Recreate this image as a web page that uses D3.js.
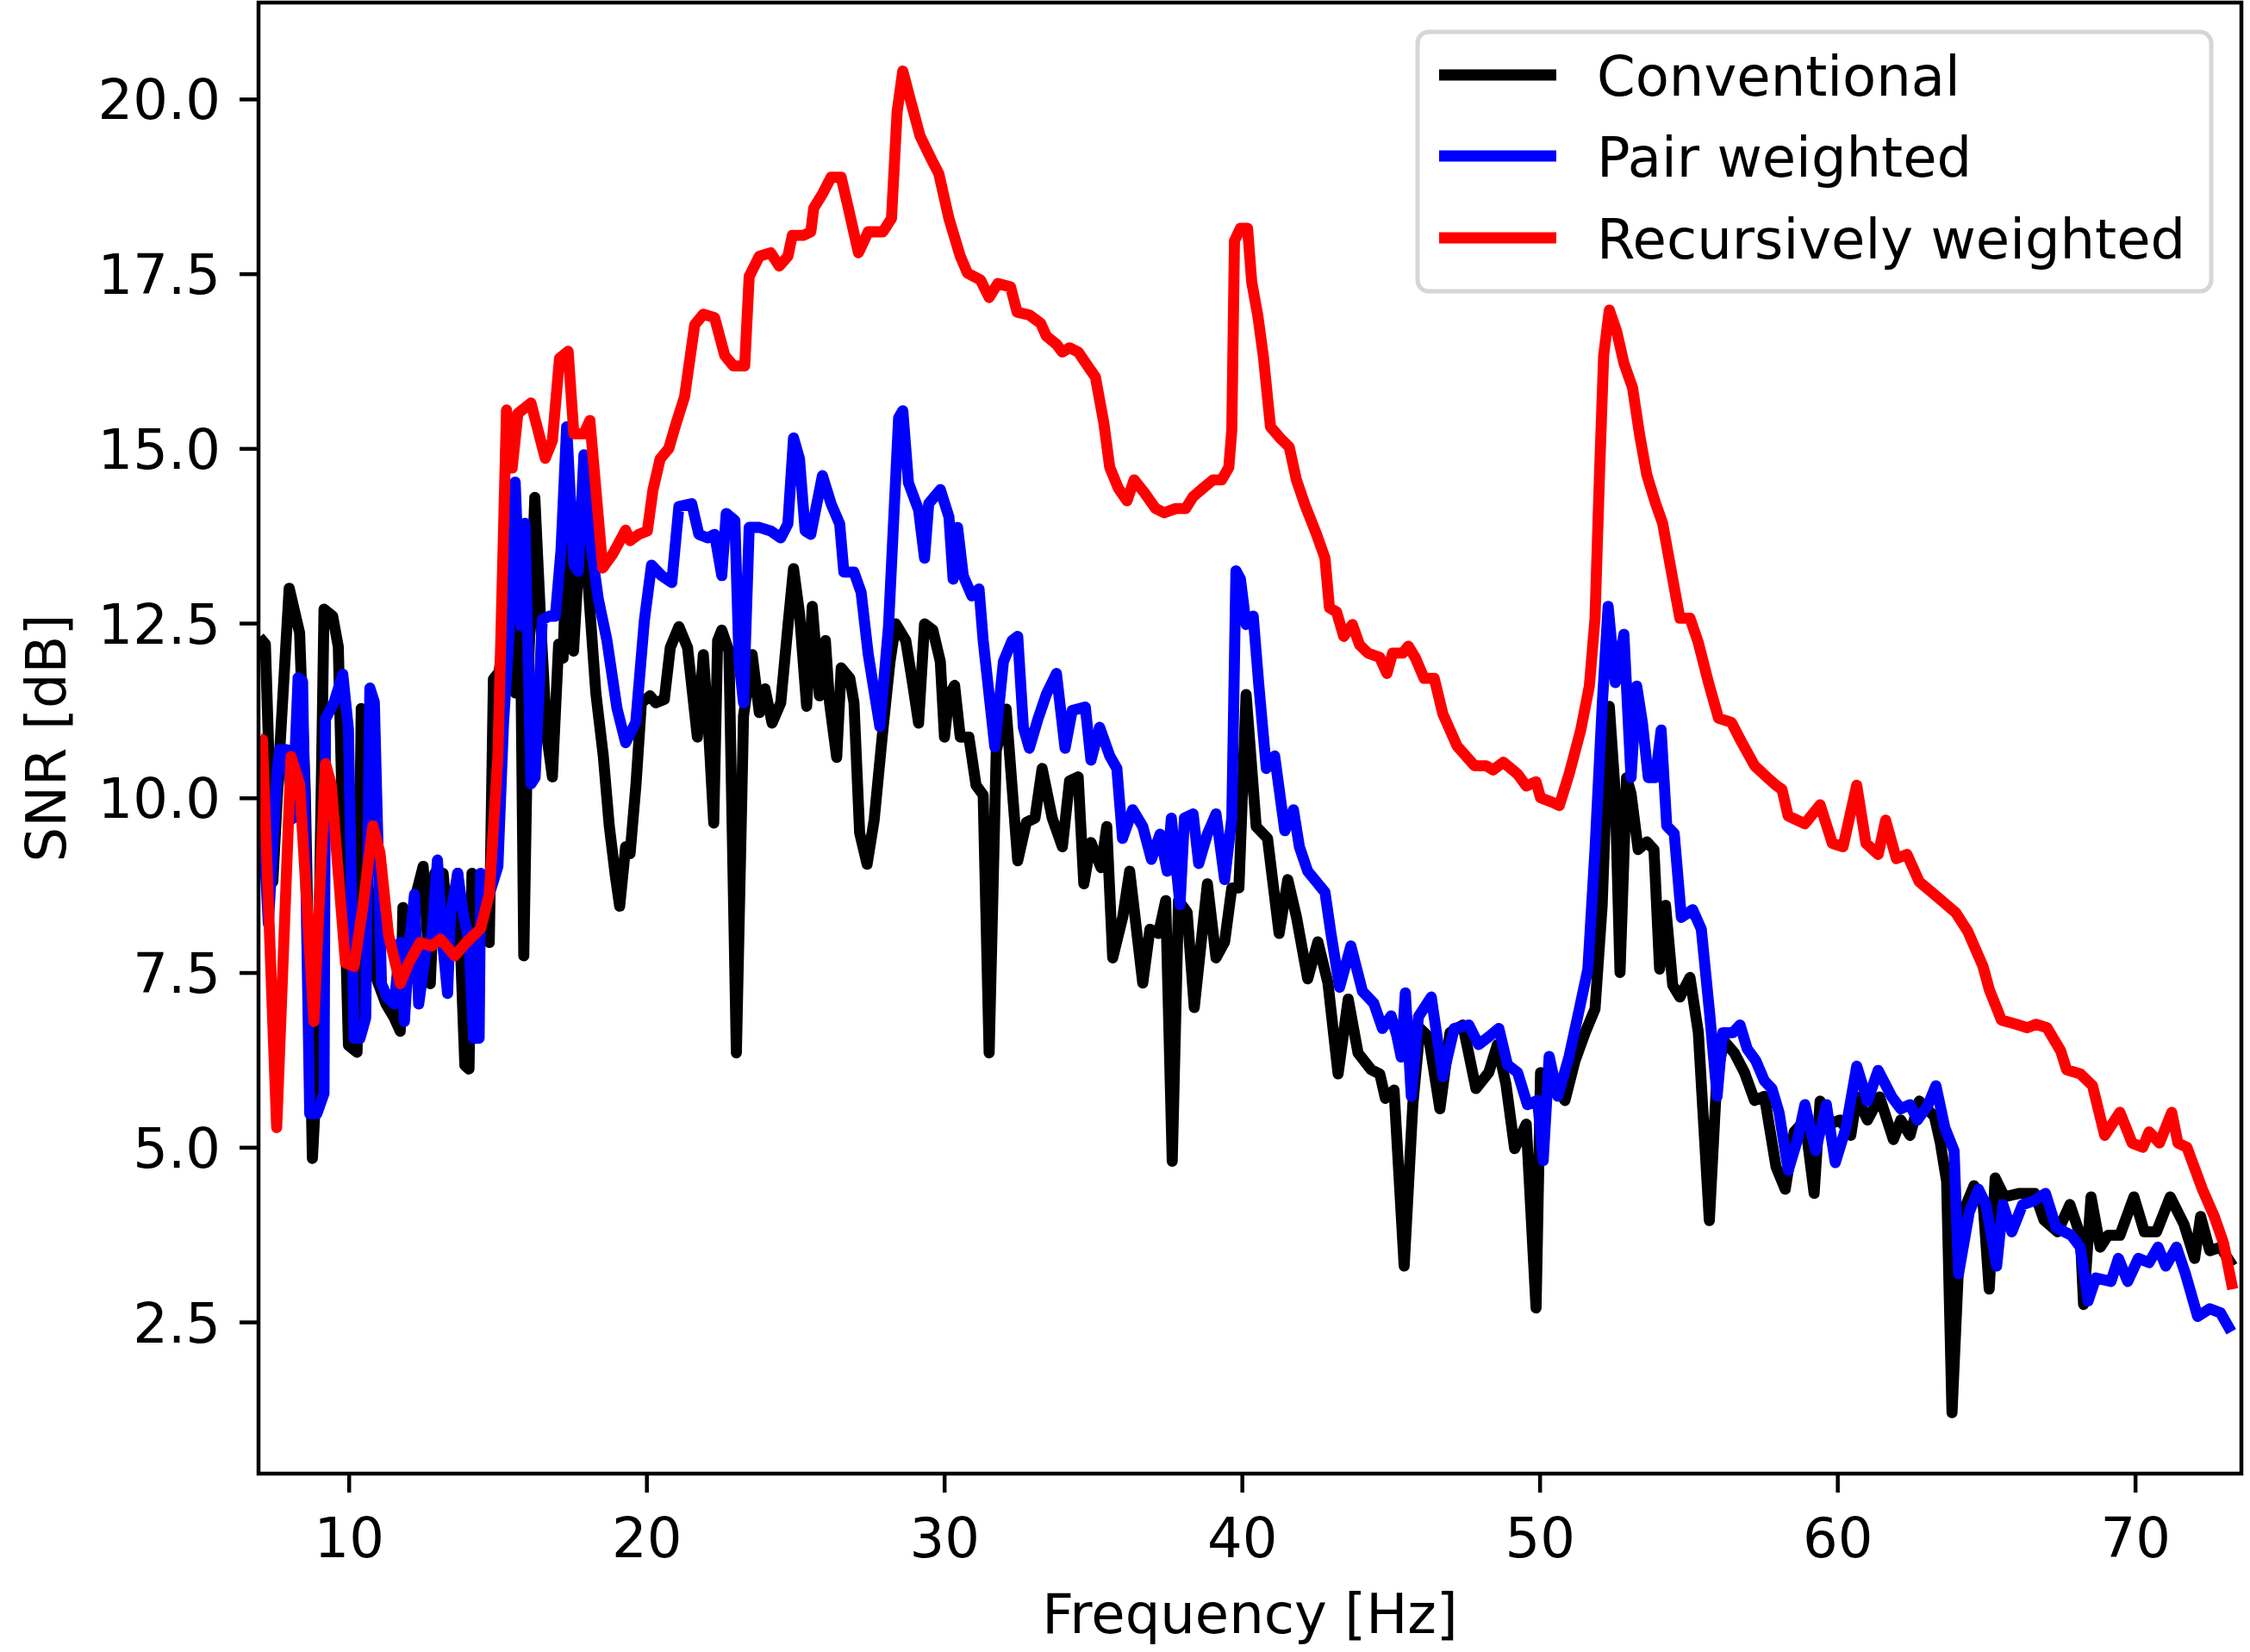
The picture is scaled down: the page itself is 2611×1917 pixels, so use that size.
<!DOCTYPE html>
<html>
<head>
<meta charset="utf-8">
<script src="https://cdn.jsdelivr.net/npm/d3@7"></script>
<style>
  html, body { margin: 0; padding: 0; background: #ffffff; }
  svg { display: block; }
  text { font-family: "DejaVu Sans", sans-serif; fill: #000; }
</style>
</head>
<body>
<svg id="chart" width="2611" height="1917"></svg>
<script>
// ---------------- DATA ----------------
const seriesNames = ["Conventional", "Pair weighted", "Recursively weighted"];
const seriesColors = ["#000000", "#0000ff", "#ff0000"];

const xTickValues = [10, 20, 30, 40, 50, 60, 70];
const yTickValues = [2.5, 5.0, 7.5, 10.0, 12.5, 15.0, 17.5, 20.0];
const xLabel = "Frequency [Hz]";
const yLabel = "SNR [dB]";

// [frequency Hz, SNR dB]
const conventional = [
[7.0,12.3],[7.2,12.2],[7.45,8.8],[7.7,10.8],[8.0,13.0],[8.35,12.36],[8.54,10.1],[8.78,4.84],[8.93,6.07],[9.17,12.7],
[9.46,12.6],[9.65,12.16],[9.8,9.5],[9.99,6.46],[10.28,6.36],[10.42,11.28],[10.6,9.0],[10.9,7.45],[11.25,7.05],[11.53,6.85],
[11.73,6.66],[11.82,8.43],[12.02,8.03],[12.25,8.6],[12.5,9.02],[12.74,7.34],[12.89,8.92],[13.17,8.92],[13.4,7.8],[13.66,8.92],
[13.9,6.17],[14.04,6.12],[14.14,8.92],[14.43,8.62],[14.72,7.93],[14.86,11.7],[15.05,11.8],[15.25,12.5],[15.45,13.2],[15.6,11.5],
[15.75,13.3],[15.88,7.74],[16.05,12.0],[16.25,14.3],[16.45,12.5],[16.65,10.9],[16.84,10.3],[17.05,12.2],[17.2,12.0],[17.4,14.6],
[17.55,12.1],[17.7,13.2],[17.85,14.3],[18.05,13.0],[18.3,11.5],[18.55,10.6],[18.75,9.6],[18.95,8.9],[19.1,8.45],[19.3,9.3],
[19.45,9.2],[19.65,10.2],[19.83,11.36],[20.12,11.46],[20.31,11.36],[20.6,11.41],[20.8,12.15],[21.09,12.45],[21.38,12.15],[21.71,10.87],
[21.91,12.05],[22.1,10.87],[22.26,9.64],[22.39,12.25],[22.53,12.4],[22.77,12.1],[23.02,6.35],[23.26,11.17],[23.55,12.05],[23.79,11.22],
[23.98,11.56],[24.22,11.07],[24.51,11.36],[24.75,12.45],[24.94,13.28],[25.14,12.64],[25.38,11.31],[25.57,12.74],[25.81,11.46],[26.01,12.25],
[26.15,11.36],[26.39,10.58],[26.54,11.86],[26.83,11.71],[26.97,11.36],[27.16,9.5],[27.41,9.05],[27.65,9.69],[27.94,10.97],[28.18,11.95],
[28.37,12.49],[28.71,12.25],[28.95,11.61],[29.14,11.07],[29.34,12.49],[29.62,12.4],[29.87,11.95],[30.01,10.87],[30.16,11.46],[30.35,11.61],
[30.54,10.87],[30.83,10.87],[31.07,10.18],[31.31,10.04],[31.51,6.35],[31.75,10.68],[32.08,11.27],[32.47,9.1],[32.76,9.65],[33.05,9.71],
[33.29,10.42],[33.63,9.71],[33.97,9.3],[34.21,10.24],[34.5,10.3],[34.69,8.77],[34.93,9.36],[35.27,9.0],[35.46,9.59],[35.66,7.71],
[36.0,8.3],[36.23,8.95],[36.67,7.35],[36.91,8.12],[37.2,8.06],[37.44,8.53],[37.66,4.8],[37.87,8.53],[38.16,8.36],[38.4,7.0],
[38.84,8.77],[39.13,7.71],[39.42,7.94],[39.66,8.71],[39.9,8.71],[40.14,11.48],[40.48,9.59],[40.86,9.42],[41.25,8.06],[41.54,8.83],
[41.83,8.3],[42.21,7.41],[42.55,7.94],[42.89,7.35],[43.23,6.05],[43.57,7.12],[43.9,6.35],[44.34,6.11],[44.63,6.05],[44.82,5.7],
[45.11,5.82],[45.45,3.3],[45.74,5.61],[45.98,6.7],[46.27,6.58],[46.65,5.55],[46.99,6.64],[47.42,6.75],[47.86,5.84],[48.29,6.07],
[48.58,6.47],[48.87,5.9],[49.16,4.98],[49.55,5.33],[49.88,2.7],[50.03,6.07],[50.46,5.95],[50.85,5.67],[51.19,6.24],[51.53,6.64],
[51.86,6.98],[52.1,8.46],[52.34,11.31],[52.54,10.06],[52.7,7.5],[52.92,10.29],[53.07,10.06],[53.31,9.26],[53.6,9.37],[53.84,9.26],
[54.03,7.55],[54.23,8.46],[54.47,7.32],[54.71,7.15],[55.05,7.43],[55.33,6.64],[55.7,3.95],[55.96,6.07],[56.2,6.52],[56.54,6.35],
[56.88,6.07],[57.22,5.67],[57.55,5.73],[57.94,4.72],[58.25,4.4],[58.55,5.22],[58.91,5.39],[59.22,4.34],[59.42,5.66],[59.73,5.33],
[60.09,5.39],[60.45,5.17],[60.65,5.72],[61.01,5.39],[61.42,5.72],[61.88,5.11],[62.13,5.39],[62.44,5.17],[62.75,5.66],[63.26,5.44],
[63.46,5.06],[63.67,4.51],[63.85,1.2],[64.07,3.3],[64.33,4.18],[64.59,4.45],[64.89,4.23],[65.1,2.97],[65.3,4.56],[65.61,4.29],
[66.12,4.34],[66.63,4.34],[66.94,3.96],[67.4,3.79],[67.81,4.18],[68.16,3.74],[68.27,2.75],[68.52,4.29],[68.83,3.57],[69.09,3.74],
[69.49,3.74],[69.96,4.29],[70.31,3.79],[70.72,3.79],[71.18,4.29],[71.64,3.9],[72.0,3.41],[72.2,4.01],[72.51,3.52],[72.87,3.57],
[73.28,3.3]
];

const pairWeighted = [
[7.0,10.6],[7.3,8.2],[7.6,10.4],[7.68,10.69],[7.92,10.69],[8.11,9.7],[8.3,11.72],[8.45,11.67],[8.69,5.48],[8.93,5.48],
[9.17,5.77],[9.22,11.13],[9.51,11.37],[9.8,11.77],[9.99,10.98],[10.18,6.56],[10.38,6.56],[10.57,6.85],[10.71,11.57],[10.86,11.37],
[11.1,7.34],[11.29,7.15],[11.53,7.05],[11.73,7.93],[11.87,6.8],[12.02,7.83],[12.21,8.62],[12.35,7.05],[12.6,7.83],[12.79,8.03],
[12.98,9.11],[13.13,8.03],[13.32,7.2],[13.42,8.33],[13.66,8.92],[13.85,8.33],[14.04,7.93],[14.19,6.56],[14.38,6.56],[14.43,8.92],
[14.72,8.62],[15.01,9.02],[15.2,11.08],[15.39,12.36],[15.59,14.52],[15.78,12.46],[15.92,13.93],[16.12,10.2],[16.26,10.29],[16.5,12.55],
[16.74,12.6],[16.94,12.6],[17.13,13.54],[17.32,15.31],[17.56,13.34],[17.71,13.24],[17.9,14.91],[18.1,13.73],[18.38,12.85],[18.67,12.26],
[19.01,11.28],[19.3,10.79],[19.64,11.08],[19.93,12.54],[20.17,13.33],[20.51,13.18],[20.85,13.08],[21.09,14.17],[21.52,14.21],[21.76,13.77],
[22.05,13.72],[22.29,13.77],[22.53,13.18],[22.68,14.07],[22.97,13.97],[23.11,11.95],[23.26,11.36],[23.45,13.87],[23.79,13.87],[24.17,13.82],
[24.51,13.72],[24.75,13.92],[24.94,15.15],[25.14,14.85],[25.33,13.82],[25.52,13.77],[25.91,14.61],[26.2,14.21],[26.49,13.92],[26.63,13.23],
[26.97,13.23],[27.21,12.94],[27.45,12.05],[27.84,11.02],[28.13,12.45],[28.47,15.44],[28.61,15.54],[28.8,14.51],[29.14,14.12],[29.34,13.43],
[29.48,14.21],[29.87,14.41],[30.16,14.02],[30.3,13.13],[30.45,13.87],[30.64,13.18],[30.93,12.89],[31.17,12.99],[31.31,12.25],[31.7,10.73],
[31.99,11.95],[32.28,12.25],[32.47,12.31],[32.66,11.01],[32.86,10.71],[33.15,11.13],[33.43,11.48],[33.77,11.78],[34.06,10.71],[34.3,11.25],
[34.74,11.3],[34.93,10.54],[35.22,11.01],[35.56,10.6],[35.8,10.42],[35.99,9.42],[36.33,9.83],[36.67,9.59],[36.96,9.12],[37.25,9.48],
[37.49,8.95],[37.63,9.71],[37.92,8.47],[38.07,9.71],[38.36,9.77],[38.55,9.06],[38.84,9.48],[39.13,9.77],[39.42,8.83],[39.66,9.71],
[39.8,13.25],[39.95,13.13],[40.14,12.48],[40.38,12.6],[40.57,11.6],[40.82,10.42],[41.1,10.6],[41.44,9.53],[41.73,9.83],[41.93,9.3],
[42.21,8.95],[42.79,8.65],[42.99,8.06],[43.28,7.29],[43.66,7.88],[44.05,7.23],[44.43,7.06],[44.72,6.7],[45.01,6.88],[45.2,6.6],
[45.35,6.29],[45.49,7.21],[45.69,5.73],[45.93,6.87],[46.36,7.15],[46.75,6.01],[47.13,6.7],[47.62,6.75],[47.95,6.47],[48.29,6.58],
[48.63,6.7],[48.92,6.18],[49.26,6.07],[49.59,5.61],[49.93,5.67],[50.12,4.81],[50.32,6.3],[50.61,5.73],[50.99,6.3],[51.28,6.87],
[51.62,7.55],[51.86,9.26],[52.1,11.31],[52.3,12.74],[52.54,11.65],[52.83,12.34],[53.07,10.29],[53.26,11.6],[53.45,11.08],[53.65,10.29],
[53.89,10.29],[54.08,10.97],[54.27,9.6],[54.52,9.49],[54.76,8.29],[55.14,8.4],[55.43,8.12],[55.72,6.87],[55.96,5.73],[56.15,6.64],
[56.49,6.64],[56.73,6.75],[56.97,6.41],[57.26,6.24],[57.55,5.95],[57.8,5.84],[58.04,5.5],[58.35,4.67],[58.66,5.11],[58.91,5.61],
[59.27,4.95],[59.63,5.61],[59.93,4.78],[60.29,5.28],[60.65,6.16],[61.01,5.66],[61.37,6.1],[61.83,5.72],[62.13,5.55],[62.44,5.61],
[62.69,5.39],[63.05,5.61],[63.31,5.88],[63.61,5.28],[63.92,4.95],[64.07,3.19],[64.43,4.07],[64.74,4.4],[64.99,4.18],[65.35,3.3],
[65.56,4.18],[65.86,3.79],[66.22,4.18],[66.58,4.23],[66.99,4.34],[67.35,3.85],[67.86,3.74],[68.16,3.57],[68.42,2.8],[68.68,3.13],
[69.19,3.08],[69.44,3.41],[69.75,3.08],[70.11,3.41],[70.47,3.35],[70.77,3.57],[71.03,3.3],[71.39,3.57],[71.69,3.19],[72.1,2.58],
[72.51,2.69],[72.87,2.63],[73.23,2.36]
];

const recursivelyWeighted = [
[7.0,10.85],[7.1,10.83],[7.58,5.28],[8.06,10.59],[8.35,10.2],[8.83,6.8],[9.22,10.49],[9.41,10.2],[9.89,7.64],[10.18,7.59],
[10.47,8.43],[10.81,9.6],[11.05,9.21],[11.34,8.03],[11.73,7.34],[12.02,7.64],[12.4,7.93],[12.79,7.88],[13.08,7.98],[13.56,7.74],
[13.95,7.93],[14.43,8.13],[14.72,8.62],[15.01,10.59],[15.3,15.55],[15.49,14.72],[15.68,15.5],[16.12,15.65],[16.6,14.86],[16.84,15.11],
[17.08,16.29],[17.37,16.39],[17.56,15.21],[17.9,15.21],[18.1,15.4],[18.53,13.29],[18.87,13.49],[19.3,13.83],[19.45,13.68],[19.74,13.77],
[20.03,13.82],[20.22,14.41],[20.46,14.85],[20.75,15.0],[20.99,15.35],[21.28,15.74],[21.62,16.77],[21.91,16.92],[22.29,16.87],[22.63,16.33],
[22.92,16.18],[23.3,16.18],[23.45,17.46],[23.79,17.75],[24.17,17.8],[24.46,17.61],[24.75,17.75],[24.9,18.05],[25.28,18.05],[25.52,18.1],
[25.62,18.44],[25.91,18.64],[26.2,18.88],[26.54,18.88],[26.78,18.44],[27.12,17.8],[27.45,18.1],[27.94,18.1],[28.23,18.29],[28.42,19.82],
[28.61,20.4],[28.85,20.01],[29.19,19.47],[29.58,19.13],[29.82,18.93],[30.16,18.29],[30.54,17.75],[30.78,17.51],[31.22,17.41],[31.51,17.16],
[31.8,17.36],[32.23,17.31],[32.45,16.95],[32.86,16.91],[33.24,16.79],[33.43,16.61],[33.77,16.49],[33.97,16.38],[34.21,16.44],[34.5,16.38],
[34.79,16.2],[35.08,16.02],[35.36,15.37],[35.56,14.73],[35.85,14.43],[36.14,14.25],[36.38,14.55],[36.72,14.37],[37.1,14.14],[37.39,14.08],
[37.78,14.14],[38.11,14.14],[38.36,14.31],[38.69,14.43],[39.03,14.55],[39.32,14.55],[39.56,14.73],[39.66,15.26],[39.75,17.97],[39.95,18.15],
[40.19,18.15],[40.33,17.38],[40.53,16.91],[40.72,16.32],[40.96,15.31],[41.3,15.14],[41.59,15.02],[41.83,14.55],[42.12,14.19],[42.5,13.78],
[42.79,13.43],[42.94,12.72],[43.18,12.66],[43.42,12.31],[43.71,12.48],[43.95,12.19],[44.24,12.07],[44.63,12.01],[44.87,11.78],[45.06,12.07],
[45.4,12.07],[45.59,12.17],[45.83,12.0],[46.12,11.71],[46.46,11.71],[46.75,11.2],[47.23,10.74],[47.81,10.46],[48.2,10.46],[48.44,10.4],
[48.78,10.51],[49.26,10.34],[49.55,10.17],[49.88,10.23],[50.03,10.0],[50.41,9.94],[50.66,9.89],[50.99,10.34],[51.38,10.97],[51.67,11.6],
[51.86,12.57],[52.01,14.62],[52.15,16.33],[52.34,16.98],[52.59,16.67],[52.83,16.22],[53.12,15.87],[53.36,15.19],[53.6,14.62],[53.89,14.22],
[54.13,13.93],[54.42,13.25],[54.71,12.57],[55.05,12.57],[55.33,12.22],[55.67,11.65],[56.01,11.14],[56.44,11.08],[56.78,10.8],[57.22,10.46],
[57.65,10.29],[57.94,10.18],[58.14,10.12],[58.35,9.74],[58.91,9.63],[59.42,9.9],[59.83,9.35],[60.19,9.3],[60.65,10.18],[60.96,9.35],
[61.37,9.19],[61.62,9.68],[61.98,9.13],[62.34,9.19],[62.75,8.8],[63.36,8.58],[63.97,8.36],[64.38,8.09],[64.89,7.59],[65.1,7.26],
[65.51,6.82],[66.02,6.76],[66.38,6.71],[66.68,6.76],[67.04,6.71],[67.5,6.38],[67.7,6.11],[68.16,6.05],[68.57,5.88],[68.98,5.17],
[69.49,5.5],[69.9,5.06],[70.26,5.0],[70.47,5.22],[70.82,5.06],[71.23,5.5],[71.44,5.06],[71.74,5.0],[72.26,4.4],[72.66,4.01],
[72.97,3.63],[73.28,2.97]
];

const seriesData = [conventional, pairWeighted, recursivelyWeighted];

// ---------------- LAYOUT ----------------
const W = 2611, H = 1917;
const plot = { left: 300, top: 3, right: 2601, bottom: 1710 };
const FONT = 64;
const LINE_W = 12.8;

const svg = d3.select("#chart");
svg.append("rect").attr("width", W).attr("height", H).attr("fill", "#ffffff");

const x = d3.scaleLinear().domain([6.97, 73.57]).range([plot.left, plot.right]);
const y = d3.scaleLinear().domain([0.33, 21.38]).range([plot.bottom, plot.top]);

svg.append("defs").append("clipPath").attr("id", "plotclip")
  .append("rect")
  .attr("x", plot.left).attr("y", plot.top)
  .attr("width", plot.right - plot.left).attr("height", plot.bottom - plot.top);

// Lines
const line = d3.line().x(d => x(d[0])).y(d => y(d[1]));
const gLines = svg.append("g").attr("clip-path", "url(#plotclip)");
seriesData.forEach((data, i) => {
  gLines.append("path")
    .datum(data)
    .attr("d", line)
    .attr("fill", "none")
    .attr("stroke", seriesColors[i])
    .attr("stroke-width", LINE_W)
    .attr("stroke-linejoin", "round")
    .attr("stroke-linecap", "butt");
});

// Axes
const tickLen = 22, tickPad = 22;
const xAxis = d3.axisBottom(x).tickValues(xTickValues).tickFormat(d3.format("d"))
  .tickSize(tickLen).tickSizeOuter(0).tickPadding(tickPad);
const yAxis = d3.axisLeft(y).tickValues(yTickValues).tickFormat(d3.format(".1f"))
  .tickSize(tickLen).tickSizeOuter(0).tickPadding(tickPad);

const gx = svg.append("g").attr("transform", `translate(0,${plot.bottom})`).call(xAxis);
const gy = svg.append("g").attr("transform", `translate(${plot.left},0)`).call(yAxis);

[gx, gy].forEach(g => {
  g.select(".domain").remove();
  g.selectAll(".tick line").attr("stroke", "#000").attr("stroke-width", 4.5);
  g.selectAll(".tick text")
    .attr("font-family", "DejaVu Sans")
    .attr("font-size", FONT)
    .attr("fill", "#000");
});
gx.selectAll(".tick text").attr("dy", "0.83em");
gy.selectAll(".tick text").attr("dy", "0.36em");

// Frame
svg.append("rect")
  .attr("x", plot.left).attr("y", plot.top)
  .attr("width", plot.right - plot.left).attr("height", plot.bottom - plot.top)
  .attr("fill", "none").attr("stroke", "#000").attr("stroke-width", 4.5);

// Axis labels
svg.append("text")
  .attr("x", (plot.left + plot.right) / 2).attr("y", 1895)
  .attr("text-anchor", "middle")
  .attr("font-size", FONT)
  .text(xLabel);

svg.append("text")
  .attr("transform", `translate(76,${(plot.top + plot.bottom) / 2}) rotate(-90)`)
  .attr("text-anchor", "middle")
  .attr("font-size", FONT)
  .text(yLabel);

// Legend
const legend = { x: 1645, y: 37, w: 921, h: 301 };
const gLeg = svg.append("g");
gLeg.append("rect")
  .attr("x", legend.x).attr("y", legend.y)
  .attr("width", legend.w).attr("height", legend.h)
  .attr("rx", 13).attr("ry", 13)
  .attr("fill", "#ffffff").attr("fill-opacity", 0.8)
  .attr("stroke", "#d6d6d6").attr("stroke-width", 5);

const rowY = [87, 181, 276];
seriesNames.forEach((name, i) => {
  gLeg.append("line")
    .attr("x1", 1670).attr("x2", 1806)
    .attr("y1", rowY[i]).attr("y2", rowY[i])
    .attr("stroke", seriesColors[i]).attr("stroke-width", LINE_W);
  gLeg.append("text")
    .attr("x", 1853).attr("y", rowY[i] + 24)
    .attr("font-size", FONT)
    .text(name);
});
</script>
</body>
</html>
